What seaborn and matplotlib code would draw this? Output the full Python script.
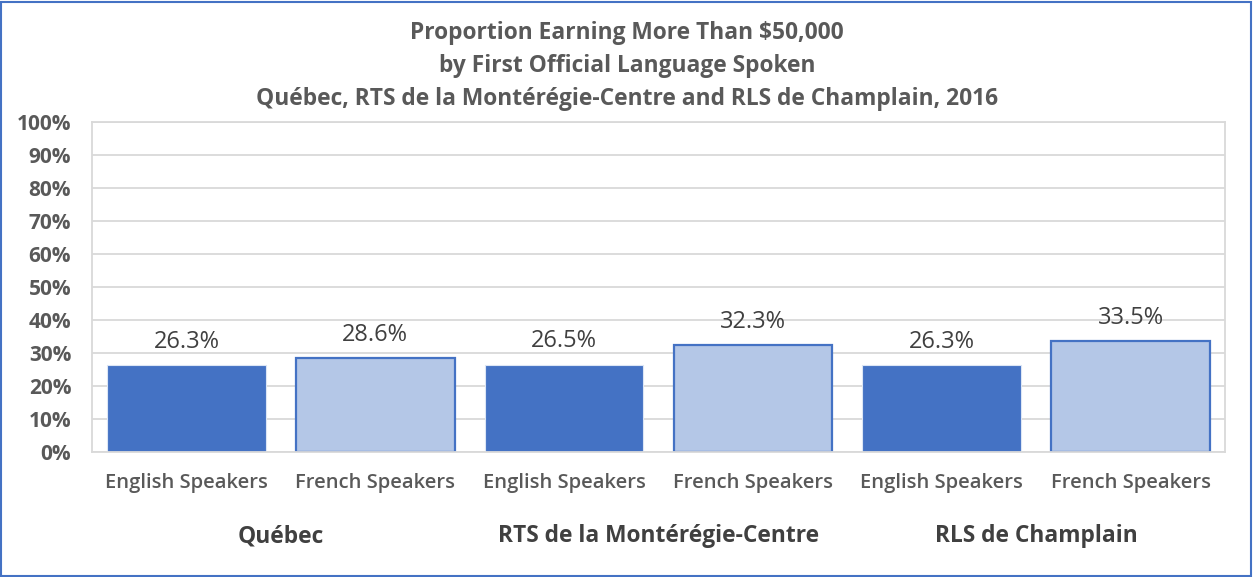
import pandas as pd
import matplotlib
matplotlib.use('Agg')
import matplotlib.pyplot as plt
import seaborn as sns
from matplotlib.patches import Rectangle

# data
regions = ['Québec', 'RTS de la Montérégie-Centre', 'RLS de Champlain']
languages = ['English Speakers', 'French Speakers']
english_pct = [26.3, 26.5, 26.3]
french_pct = [28.6, 32.3, 33.5]
y_ticks = [0, 10, 20, 30, 40, 50, 60, 70, 80, 90, 100]

df = pd.DataFrame({
    'region': regions * 2,
    'language': [languages[0]] * 3 + [languages[1]] * 3,
    'pct': english_pct + french_pct,
})

sns.set_theme(style='white')
plt.rcParams['font.family'] = ['Open Sans', 'DejaVu Sans']

grey = '#595959'
dark_blue = '#4472C4'
light_blue = '#B4C7E7'
grid_col = '#D9D9D9'

fig = plt.figure(figsize=(12.54, 5.77), dpi=100)
ax = fig.add_axes([0.0734, 0.2166, 0.9035, 0.572])

# width=1 keeps all six bars evenly spaced, gap shrinks each bar
sns.barplot(data=df, x='region', y='pct', hue='language', order=regions,
            hue_order=languages, palette=[dark_blue, light_blue],
            width=1.0, gap=0.16, saturation=1, dodge=True, legend=False, ax=ax)

for cont, lang in zip(ax.containers, languages):
    for bar in cont:
        if lang == 'French Speakers':
            bar.set_edgecolor(dark_blue)
            bar.set_linewidth(1.6)
        else:
            bar.set_edgecolor('#DCE6F5')
            bar.set_linewidth(0.8)
    ax.bar_label(cont, labels=[f'{v:.1f}%' for v in cont.datavalues],
                 padding=8, fontsize=17, color='#404040')

ax.set_xlim(-0.5, len(regions) - 0.5)
ax.set_ylim(0, 100)
ax.set_yticks(y_ticks)
ax.set_yticklabels([f'{t}%' for t in y_ticks], fontsize=15, fontweight='bold', color=grey)
ax.yaxis.grid(True, color=grid_col, linewidth=1.3)
ax.set_axisbelow(True)
for s in ax.spines.values():
    s.set_color(grid_col)
    s.set_linewidth(1.3)
ax.tick_params(axis='y', length=0, pad=15)

# speaker labels under each bar, region labels under each pair
ax.set_xticks([])
ax.set_xlabel('')
ax.set_ylabel('')
for i, reg in enumerate(regions):
    for j, lang in enumerate(languages):
        ax.text(i + (-0.25 if j == 0 else 0.25), -9.5, lang,
                ha='center', va='center', fontsize=14.5, fontweight='semibold',
                color=grey, clip_on=False)
    ax.text(i, -25.5, reg, ha='center', va='center', fontsize=16.4,
            fontweight='bold', color='#404040', clip_on=False)

fig.text(0.5, 0.963, 'Proportion Earning More Than $50,000\nby First Official Language Spoken\n'
         'Québec, RTS de la Montérégie-Centre and RLS de Champlain, 2016',
         ha='center', va='top', fontsize=16.4, fontweight='bold', color=grey,
         linespacing=1.5)

fig.patches.append(Rectangle((0.001, 0.002), 0.997, 0.995, transform=fig.transFigure,
                             fill=False, edgecolor=dark_blue, linewidth=1.5))

fig.savefig('out.png', dpi=100)
